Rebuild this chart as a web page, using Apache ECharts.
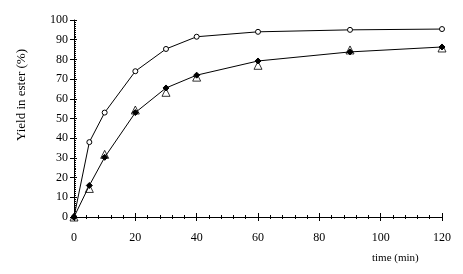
<!DOCTYPE html>
<html><head><meta charset="utf-8">
<script src="https://cdn.jsdelivr.net/npm/echarts@6/dist/echarts.min.js"></script>
<style>html,body{margin:0;padding:0;background:#fff}#c{width:463px;height:274px}</style>
</head><body><div id="c"></div>
<script>
var time = [0, 5, 10, 20, 30, 40, 60, 90, 120];
var circles = [0, 38, 53, 74, 85.3, 91.5, 94, 95, 95.4];
var diamonds = [0, 16, 30.3, 53, 65.5, 72, 79.2, 83.8, 86.3];
var triangles = [0, 14.5, 31.8, 54.3, 63.3, 71, 77, 84.8, 85.8];
var xTicks = [0, 20, 40, 60, 80, 100, 120];
var yTicks = [0, 10, 20, 30, 40, 50, 60, 70, 80, 90, 100];

function pairs(ys) { return time.map(function (t, i) { return [t, ys[i]]; }); }
var FONT = 'Liberation Serif';
var chart = echarts.init(document.getElementById('c'), null, { renderer: 'canvas' });
var xBase = { type: 'value', min: 0, max: 120, interval: 20, splitLine: { show: false } };
var yBase = { type: 'value', min: 0, max: 100, interval: 10, splitLine: { show: false } };
chart.setOption({
  animation: false,
  grid: { left: 74, right: 21, top: 20, bottom: 57 },
  xAxis: [
    Object.assign({}, xBase, {
      axisLine: { show: true, lineStyle: { color: '#000', width: 1 } },
      axisTick: { show: true, inside: false, length: 4, lineStyle: { color: '#000' } },
      minorTick: { show: true, splitNumber: 5, length: 2, lineStyle: { color: '#000' } },
      axisLabel: { show: true, margin: 15, color: '#000', fontFamily: FONT, fontSize: 12,
        formatter: function (v) { return xTicks.indexOf(v) >= 0 ? String(v) : ''; } }
    }),
    Object.assign({}, xBase, {
      position: 'bottom',
      axisLine: { show: false },
      axisTick: { show: true, inside: true, length: 4, lineStyle: { color: '#000' } },
      minorTick: { show: true, splitNumber: 5, length: 2, lineStyle: { color: '#000' } },
      axisLabel: { show: false }
    })
  ],
  yAxis: [
    Object.assign({}, yBase, {
      axisLine: { show: true, lineStyle: { color: '#000', width: 1 } },
      axisTick: { show: true, inside: false, length: 4, lineStyle: { color: '#000' } },
      axisLabel: { show: true, margin: 6, color: '#000', fontFamily: FONT, fontSize: 12,
        formatter: function (v) { return yTicks.indexOf(v) >= 0 ? String(v) : ''; } }
    }),
    Object.assign({}, yBase, {
      position: 'left',
      axisLine: { show: false },
      axisTick: { show: true, inside: true, length: 3, lineStyle: { color: '#000' } },
      minorTick: { show: true, splitNumber: 10, length: 2, lineStyle: { color: '#000' } },
      axisLabel: { show: false }
    })
  ],
  series: [
    { type: 'line', data: pairs(circles), symbol: 'circle', symbolSize: 5,
      lineStyle: { color: '#000', width: 1 },
      itemStyle: { color: '#fff', borderColor: '#000', borderWidth: 1 }, z: 3 },
    { type: 'line', data: pairs(diamonds), symbol: 'diamond', symbolSize: 6,
      lineStyle: { color: '#000', width: 1 },
      itemStyle: { color: '#000', borderColor: '#000', borderWidth: 1 }, z: 3 },
    { type: 'scatter', data: pairs(triangles), symbol: 'triangle', symbolSize: 8,
      itemStyle: { color: 'rgba(255,255,255,0)', borderColor: '#000', borderWidth: 1 }, z: 4 }
  ],
  graphic: [
    { type: 'text', left: 372, top: 253,
      style: { text: 'time (min)', font: '11px "' + FONT + '"', fill: '#000' } },
    { type: 'text', x: 22, y: 95, rotation: Math.PI / 2,
      style: { text: 'Yield in ester (%)', font: '13px "' + FONT + '"', fill: '#000',
        align: 'center', verticalAlign: 'middle' } }
  ]
});
</script></body></html>
